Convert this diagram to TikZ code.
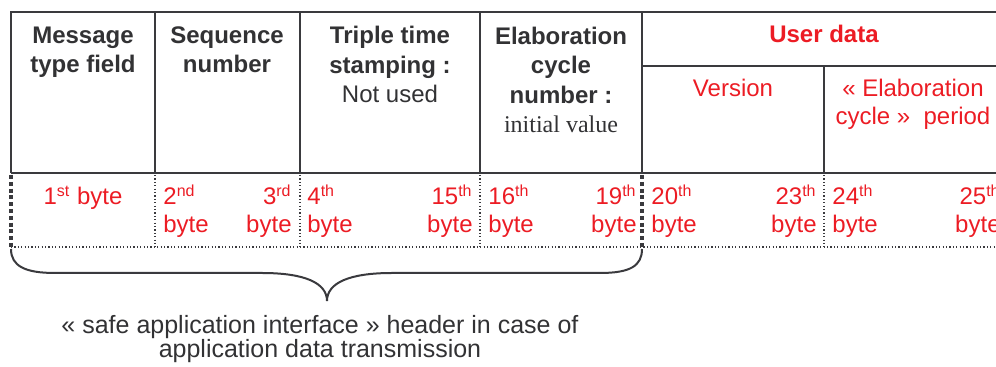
\documentclass[tikz,border=0pt]{standalone}
\usepackage{fontspec}
\setmainfont{Liberation Sans}
\newfontfamily\timesfont{Liberation Serif}
\usetikzlibrary{positioning,calc}
\definecolor{framegray}{RGB}{58,58,62}
\definecolor{inkgray}{RGB}{50,50,52}
\definecolor{datared}{RGB}{236,28,36}
\tikzset{
  frame/.style={draw=framegray, line width=1.4pt},
  thinrule/.style={draw=framegray, line width=0.65pt},
  midrule/.style={draw=framegray, line width=1.2pt},
  dotrule/.style={draw=framegray, line width=0.6pt, dash pattern=on 0.6pt off 1.1pt},
  heavydots/.style={draw=framegray, line width=2pt, dash pattern=on 2pt off 1.4pt},
  bracepath/.style={draw=framegray, line width=1pt},
}

\begin{document}
\begin{tikzpicture}[x=0.5pt, y=-0.5pt,
  head/.style={inner sep=0pt, align=center, anchor=base, text=inkgray,
    font=\fontsize{12}{14.8}\selectfont\bfseries},
  sub/.style={inner sep=0pt, align=center, anchor=base, text=datared,
    font=\fontsize{12}{14}\selectfont},
  byteleft/.style={inner sep=0pt, anchor=base west, text=datared,
    font=\fontsize{12}{14}\selectfont},
  byteright/.style={byteleft, anchor=base east},
  note/.style={inner sep=0pt, align=center, anchor=base, text=inkgray,
    font=\fontsize{12.5}{12.2}\selectfont}]
  \clip (0,0) rectangle (996,367);

  % table frame
  \draw[frame] (11,173) -- (11,12) -- (1010,12);
  \draw[frame] (11,173) -- (1010,173);
  \draw[thinrule] (155,12) -- (155,173);
  \draw[thinrule, line width=0.85pt] (300,12) -- (300,173);
  \draw[midrule] (480,12) -- (480,173);
  \draw[frame] (642,12) -- (642,173);
  \draw[thinrule] (642,66) -- (1010,66);
  \draw[thinrule, line width=0.85pt] (824,66) -- (824,173);

  % field names (base = last line)
  \node[head] (msg) at (83,73) {Message\\type field};
  \node[head] (seq) at (227,73) {Sequence\\number};
  \node[head] (tts) at (390,103) {Triple time\\stamping :\\\mdseries Not used};
  \node[head] (ecn) at (561,133) {Elaboration\\cycle\\number :\\\mdseries\timesfont initial value};
  \node[head, text=datared] (usr) at (824,43) {User data};
  \node[sub] (ver) at (733,97) {Version};
  \node[sub] (ecp) at (913,125) {« Elaboration\\cycle »~ period};

  % byte row
  \draw[heavydots] (11,175) -- (11,249);
  \draw[heavydots] (642,175) -- (642,249);
  \draw[dotrule] (155,175) -- (155,247);
  \draw[dotrule] (300,175) -- (300,247);
  \draw[dotrule] (480,175) -- (480,247);
  \draw[dotrule] (824,175) -- (824,247);
  \draw[dotrule] (11,247) -- (1010,247);

  \node[byteleft, anchor=base] (b1) at (83,205) {1\textsuperscript{st} byte};
  \node[byteleft] (b2) at (163,205) {2\textsuperscript{nd}};
  \node[byteleft] (b2b) at (163,233) {byte};
  \node[byteright] (b3) at (292,205) {3\textsuperscript{rd}};
  \node[byteright] (b3b) at (292,233) {byte};
  \node[byteleft] (b4) at (307,205) {4\textsuperscript{th}};
  \node[byteleft] (b4b) at (307,233) {byte};
  \node[byteright] (b15) at (473,205) {15\textsuperscript{th}};
  \node[byteright] (b15b) at (473,233) {byte};
  \node[byteleft] (b16) at (488,205) {16\textsuperscript{th}};
  \node[byteleft] (b16b) at (488,233) {byte};
  \node[byteright] (b19) at (637,205) {19\textsuperscript{th}};
  \node[byteright] (b19b) at (637,233) {byte};
  \node[byteleft] (b20) at (651,205) {20\textsuperscript{th}};
  \node[byteleft] (b20b) at (651,233) {byte};
  \node[byteright] (b23) at (817,205) {23\textsuperscript{th}};
  \node[byteright] (b23b) at (817,233) {byte};
  \node[byteleft] (b24) at (832,205) {24\textsuperscript{th}};
  \node[byteleft] (b24b) at (832,233) {byte};
  \node[byteright] (b25) at (1001,205) {25\textsuperscript{th}};
  \node[byteright] (b25b) at (1001,233) {byte};

  % brace under the header bytes
  \coordinate (brl) at (11,249);
  \coordinate (brr) at (642,249);
  \coordinate (brtip) at (327,301);
  \draw[bracepath] (brl) .. controls (11,266) and (25,273) .. (55,273)
    -- (262,273) .. controls (305,273) and (327,283) .. (brtip)
    .. controls (327,283) and (349,273) .. (392,273)
    -- (600,273) .. controls (630,273) and (642,266) .. (brr);

  \node[note] (cap) at (320,358) {« safe application interface » header in case of\\application data transmission};
\end{tikzpicture}
\end{document}
